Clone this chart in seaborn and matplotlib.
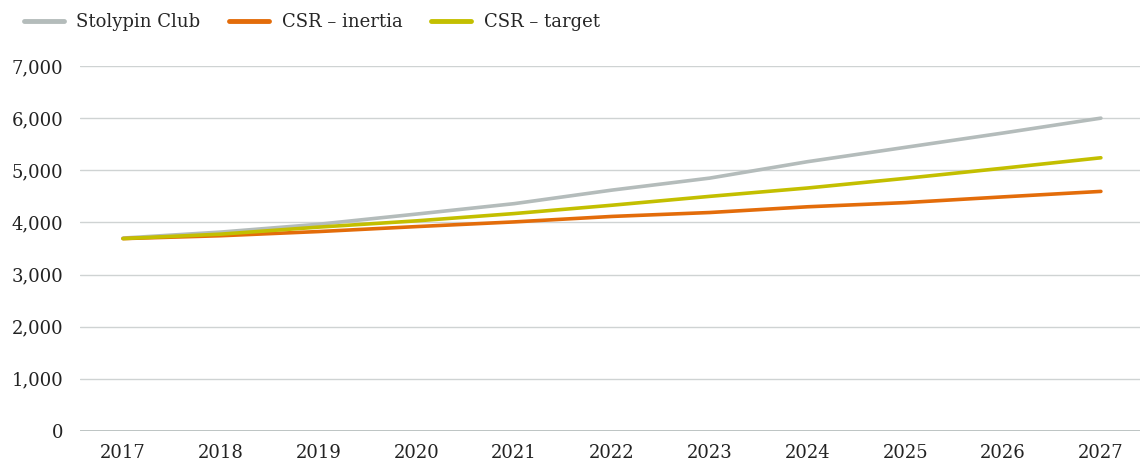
import pandas as pd
import matplotlib.pyplot as plt
import seaborn as sns

years = [2017, 2018, 2019, 2020, 2021, 2022, 2023, 2024, 2025, 2026, 2027]
stolypin = [3700, 3815, 3965, 4160, 4360, 4620, 4850, 5165, 5440, 5715, 6000]
csr_inertia = [3690, 3745, 3825, 3920, 4010, 4115, 4190, 4300, 4380, 4490, 4595]
csr_target = [3690, 3775, 3910, 4030, 4170, 4330, 4500, 4660, 4845, 5040, 5240]

series_names = ["Stolypin Club", "CSR \u2013 inertia", "CSR \u2013 target"]
colors = ["#b4bcbb", "#e36c0a", "#c3bf00"]

df = pd.DataFrame({
    "year": [str(y) for y in years] * 3,
    "value": stolypin + csr_inertia + csr_target,
    "series": [series_names[0]] * len(years)
              + [series_names[1]] * len(years)
              + [series_names[2]] * len(years),
})
df["pos"] = list(range(len(years))) * 3

sns.set_style("white")
plt.rcParams["font.family"] = ["DejaVu Serif"]

fig = plt.figure(figsize=(11.4, 4.65), dpi=100)
ax = fig.add_axes([80 / 1140, 34 / 465, 1060 / 1140, 365 / 465])

sns.lineplot(
    data=df, x="pos", y="value", hue="series",
    palette=dict(zip(series_names, colors)),
    linewidth=2.6, ax=ax, legend=True,
)

ax.set_ylim(0, 7000)
ax.set_xlim(-0.44, 10.40)
ax.set_yticks(range(0, 7001, 1000))
ax.set_yticklabels([f"{v:,}" for v in range(0, 7001, 1000)])
ax.set_xticks(range(len(years)))
ax.set_xticklabels([str(y) for y in years])
ax.grid(axis="y", color="#cfd3d3", linewidth=1)
ax.set_axisbelow(True)
for s in ["top", "right", "left", "bottom"]:
    ax.spines[s].set_visible(False)
ax.axhline(0, color="#b4bcbb", linewidth=1.2, zorder=1)
ax.tick_params(axis="both", length=0, labelsize=13, colors="#222222")
ax.tick_params(axis="y", pad=12)
ax.tick_params(axis="x", pad=9)
ax.set_xlabel("")
ax.set_ylabel("")

handles, labels = ax.get_legend_handles_labels()
ax.legend(
    handles, labels, ncol=3, frameon=False, fontsize=13,
    loc="center left", bbox_to_anchor=(24 / 1140, 1 - 22 / 465),
    bbox_transform=fig.transFigure, borderpad=0, borderaxespad=0,
    handlelength=2.2, handletextpad=0.7, columnspacing=1.6,
)
for line in ax.get_legend().get_lines():
    line.set_linewidth(3.5)

fig.savefig("out.png", dpi=100)
